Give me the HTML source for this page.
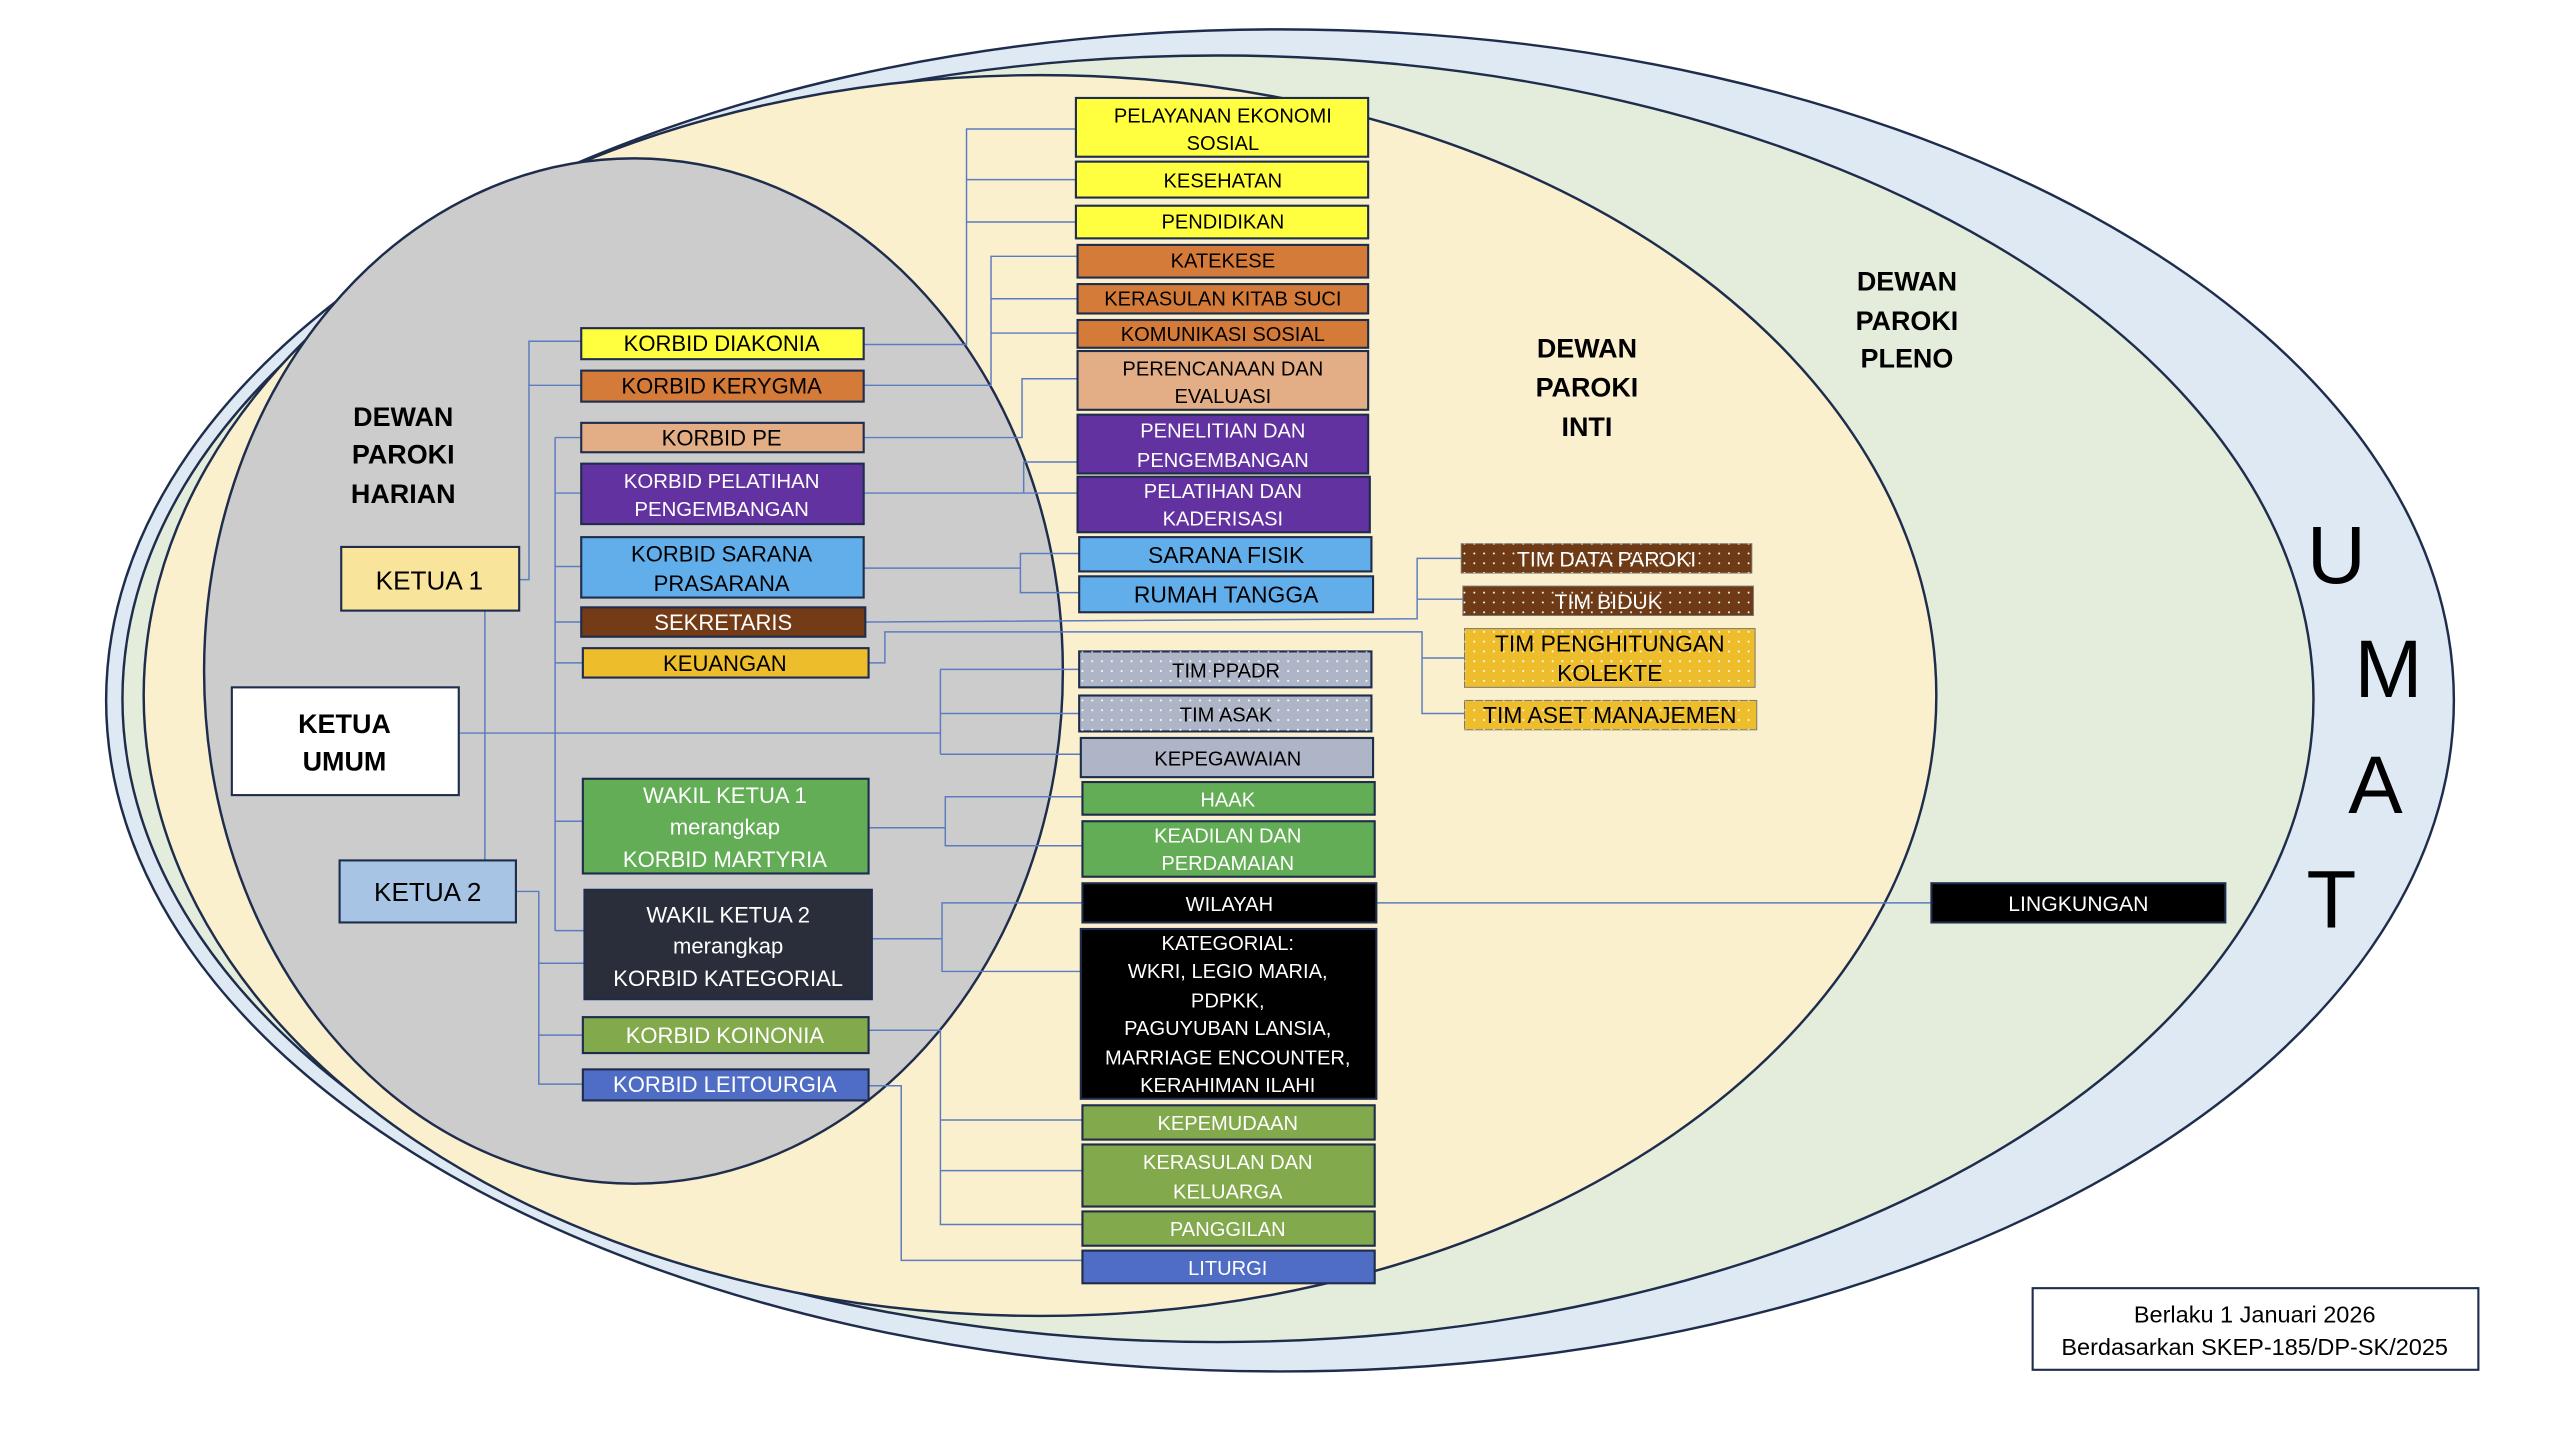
<!DOCTYPE html>
<html><head><meta charset="utf-8"><style>html,body{margin:0;padding:0;background:#fff}svg{display:block}text{font-family:"Liberation Sans",sans-serif}</style></head><body>
<svg width="2560" height="1440" viewBox="0 0 1568 882" preserveAspectRatio="none" xmlns="http://www.w3.org/2000/svg">
<defs>
<pattern id="dots" width="6" height="6" patternUnits="userSpaceOnUse"><circle cx="3" cy="3" r="0.6" fill="#fff"/></pattern>
</defs>
<rect width="1568" height="882" fill="#fff"/>
<ellipse cx="784" cy="429" rx="719" ry="411" fill="#dfe9f4" stroke="#1f2d4d" stroke-width="1.5"/>
<ellipse cx="746" cy="428" rx="671" ry="394" fill="#e4eddb" stroke="#1f2d4d" stroke-width="1.5"/>
<ellipse cx="637" cy="426" rx="549" ry="380" fill="#faf0cd" stroke="#1f2d4d" stroke-width="1.5"/>
<ellipse cx="388" cy="411" rx="263" ry="314" fill="#cccccc" stroke="#1f2d4d" stroke-width="1.5"/>

<g fill="none" stroke="#5b7cc0" stroke-width="0.9">
<path d="M318,355H324V209H356M324,236H356"/>
<path d="M297,374V527"/>
<path d="M281,449H576M576,410V462M576,410H661M576,437H661M576,462H662"/>
<path d="M340,268V570M340,268H356M340,302H356M340,347H356M340,381H356M340,406H357M340,503H357M340,570H358"/>
<path d="M316,546H330V664H357M330,590H358M330,634H357"/>
<path d="M529,211H592V79H659M592,110H659M592,136H659"/>
<path d="M529,236H607V157H660M607,183H660M607,204H660"/>
<path d="M529,268H626V232H660"/>
<path d="M529,302H660M627,302V283H660"/>
<path d="M529,348H625V339H661M625,348V363H661"/>
<path d="M530,381L868,379V342H895M868,367H896"/>
<path d="M532,406H542V387H871V437H897M871,403H897"/>
<path d="M532,507H579V488H663M579,507V518H663"/>
<path d="M534,575H577V553H663M577,575V595H662"/>
<path d="M532,631H576V750H663M576,686H663M576,717H663"/>
<path d="M532,665H552V772H663"/>
<path d="M843,553H1183"/>
</g>

<g stroke="#1f2d4d" stroke-width="1.3">
<rect x="209" y="335" width="109" height="39" fill="#f8e49a"/>
<rect x="142" y="421" width="139" height="66" fill="#fff"/>
<rect x="208" y="527" width="108" height="38" fill="#a8c4e4"/>
<rect x="356" y="201" width="173" height="19" fill="#ffff40"/>
<rect x="356" y="227" width="173" height="19" fill="#d57b3a"/>
<rect x="356" y="259" width="173" height="18" fill="#e3ae85"/>
<rect x="356" y="284" width="173" height="37" fill="#6232a0"/>
<rect x="356" y="329" width="173" height="37" fill="#62aeea"/>
<rect x="356" y="372" width="174" height="18" fill="#733b16"/>
<rect x="357" y="397" width="175" height="18" fill="#eebd2b"/>
<rect x="357" y="477" width="175" height="58" fill="#62ad56"/>
<rect x="358" y="545" width="176" height="67" fill="#2a2e3b"/>
<rect x="357" y="623" width="175" height="22" fill="#83a94d"/>
<rect x="357" y="655" width="175" height="19" fill="#4f6dc4"/>

<rect x="659" y="60" width="179" height="36" fill="#ffff40"/>
<rect x="659" y="99" width="179" height="22" fill="#ffff40"/>
<rect x="659" y="126" width="179" height="20" fill="#ffff40"/>
<rect x="660" y="150" width="178" height="20" fill="#d57b3a"/>
<rect x="660" y="174" width="178" height="18" fill="#d57b3a"/>
<rect x="660" y="196" width="178" height="17" fill="#d57b3a"/>
<rect x="660" y="215" width="178" height="36" fill="#e3ae85"/>
<rect x="660" y="254" width="178" height="36" fill="#6232a0"/>
<rect x="660" y="292" width="179" height="34" fill="#6232a0"/>
<rect x="661" y="329" width="179" height="21" fill="#62aeea"/>
<rect x="661" y="353" width="180" height="22" fill="#62aeea"/>
<rect x="661" y="399" width="179" height="22" fill="#aeb5c6"/>
<rect x="661" y="426" width="179" height="22" fill="#aeb5c6"/>
<rect x="662" y="452" width="179" height="24" fill="#aeb5c6"/>
<rect x="663" y="479" width="179" height="20" fill="#62ad56"/>
<rect x="663" y="503" width="179" height="34" fill="#62ad56"/>
<rect x="663" y="541" width="180" height="24" fill="#000"/>
<rect x="662" y="569" width="181" height="104" fill="#000"/>
<rect x="663" y="677" width="179" height="21" fill="#83a94d"/>
<rect x="663" y="701" width="179" height="38" fill="#83a94d"/>
<rect x="663" y="742" width="179" height="21" fill="#83a94d"/>
<rect x="663" y="766" width="179" height="20" fill="#4f6dc4"/>
<rect x="1183" y="541" width="180" height="24" fill="#000"/>
<rect x="1245" y="789" width="273" height="50" fill="#fff"/>
</g>
<g stroke="none">
<rect x="661" y="399" width="179" height="22" fill="url(#dots)"/>
<rect x="661" y="426" width="179" height="22" fill="url(#dots)"/>
</g>
<g stroke="#777" stroke-width="0.6">
<rect x="895" y="333" width="178" height="18" fill="#6e3b16"/>
<rect x="896" y="359" width="178" height="18" fill="#6e3b16"/>
<rect x="897" y="385" width="178" height="36" fill="#eebd2b"/>
<rect x="897" y="429" width="179" height="18" fill="#eebd2b"/>
</g>
<g stroke="none">
<rect x="895" y="333" width="178" height="18" fill="url(#dots)"/>
<rect x="896" y="359" width="178" height="18" fill="url(#dots)"/>
<rect x="897" y="385" width="178" height="36" fill="url(#dots)"/>
<rect x="897" y="429" width="179" height="18" fill="url(#dots)"/>
</g>

<g text-anchor="middle" font-weight="bold" font-size="16.5" fill="#000">
<text x="247" y="261">DEWAN</text><text x="247" y="284">PAROKI</text><text x="247" y="308">HARIAN</text>
<text x="972" y="219">DEWAN</text><text x="972" y="243">PAROKI</text><text x="972" y="267">INTI</text>
<text x="1168" y="178">DEWAN</text><text x="1168" y="202">PAROKI</text><text x="1168" y="225">PLENO</text>
<text x="211" y="449">KETUA</text><text x="211" y="472">UMUM</text>
</g>
<g text-anchor="middle" font-size="50" fill="#000">
<text x="1431" y="357">U</text><text x="1463" y="427">M</text><text x="1455" y="498">A</text><text x="1428" y="568">T</text>
</g>
<g text-anchor="middle" font-size="16" fill="#000">
<text x="263" y="361">KETUA 1</text><text x="262" y="552">KETUA 2</text>
</g>
<g text-anchor="middle" font-size="13.5">
<text x="442" y="215">KORBID DIAKONIA</text>
<text x="442" y="241">KORBID KERYGMA</text>
<text x="442" y="273">KORBID PE</text>
<text x="442" y="299" fill="#fff" font-size="12.5">KORBID PELATIHAN</text><text x="442" y="316" fill="#fff" font-size="12.5">PENGEMBANGAN</text>
<text x="442" y="344">KORBID SARANA</text><text x="442" y="362">PRASARANA</text>
<text x="443" y="386" fill="#fff">SEKRETARIS</text>
<text x="444" y="411">KEUANGAN</text>
<text x="444" y="492" fill="#fff">WAKIL KETUA 1</text><text x="444" y="511" fill="#fff">merangkap</text><text x="444" y="531" fill="#fff">KORBID MARTYRIA</text>
<text x="446" y="565" fill="#fff">WAKIL KETUA 2</text><text x="446" y="584" fill="#fff">merangkap</text><text x="446" y="604" fill="#fff">KORBID KATEGORIAL</text>
<text x="444" y="639" fill="#fff">KORBID KOINONIA</text>
<text x="444" y="669" fill="#fff">KORBID LEITOURGIA</text>
</g>
<g text-anchor="middle" font-size="12.3">
<text x="749" y="75">PELAYANAN EKONOMI</text><text x="749" y="92">SOSIAL</text>
<text x="749" y="115">KESEHATAN</text>
<text x="749" y="140">PENDIDIKAN</text>
<text x="749" y="164">KATEKESE</text>
<text x="749" y="187">KERASULAN KITAB SUCI</text>
<text x="749" y="209">KOMUNIKASI SOSIAL</text>
<text x="749" y="230">PERENCANAAN DAN</text><text x="749" y="247">EVALUASI</text>
<text x="749" y="268" fill="#fff">PENELITIAN  DAN</text><text x="749" y="286" fill="#fff">PENGEMBANGAN</text>
<text x="749" y="305" fill="#fff">PELATIHAN DAN</text><text x="749" y="322" fill="#fff">KADERISASI</text>
<text x="751" y="345" font-size="14">SARANA FISIK</text>
<text x="751" y="369" font-size="14">RUMAH TANGGA</text>
<text x="751" y="415">TIM PPADR</text>
<text x="751" y="442">TIM ASAK</text>
<text x="752" y="469">KEPEGAWAIAN</text>
<text x="752" y="494" fill="#fff">HAAK</text>
<text x="752" y="516" fill="#fff">KEADILAN DAN</text><text x="752" y="533" fill="#fff">PERDAMAIAN</text>
<text x="753" y="558" fill="#fff">WILAYAH</text>
<g fill="#fff"><text x="752" y="582">KATEGORIAL:</text><text x="752" y="599">WKRI, LEGIO MARIA,</text><text x="752" y="617">PDPKK,</text><text x="752" y="634">PAGUYUBAN LANSIA,</text><text x="752" y="652">MARRIAGE ENCOUNTER,</text><text x="752" y="669">KERAHIMAN ILAHI</text></g>
<text x="752" y="692" fill="#fff">KEPEMUDAAN</text>
<text x="752" y="716" fill="#fff">KERASULAN DAN</text><text x="752" y="734" fill="#fff">KELUARGA</text>
<text x="752" y="757" fill="#fff">PANGGILAN</text>
<text x="752" y="781" fill="#fff">LITURGI</text>
<text x="984" y="347" fill="#fff" font-size="13">TIM  DATA PAROKI</text>
<text x="985" y="373" fill="#fff" font-size="13">TIM BIDUK</text>
<text x="986" y="399" font-size="14">TIM PENGHITUNGAN</text><text x="986" y="417" font-size="14">KOLEKTE</text>
<text x="986" y="443" font-size="14">TIM ASET MANAJEMEN</text>
<text x="1273" y="558" fill="#fff" font-size="13">LINGKUNGAN</text>
<text x="1381" y="810" font-size="14.4">Berlaku 1 Januari 2026</text>
<text x="1381" y="830" font-size="14.4">Berdasarkan SKEP-185/DP-SK/2025</text>
</g>
</svg>
</body></html>
